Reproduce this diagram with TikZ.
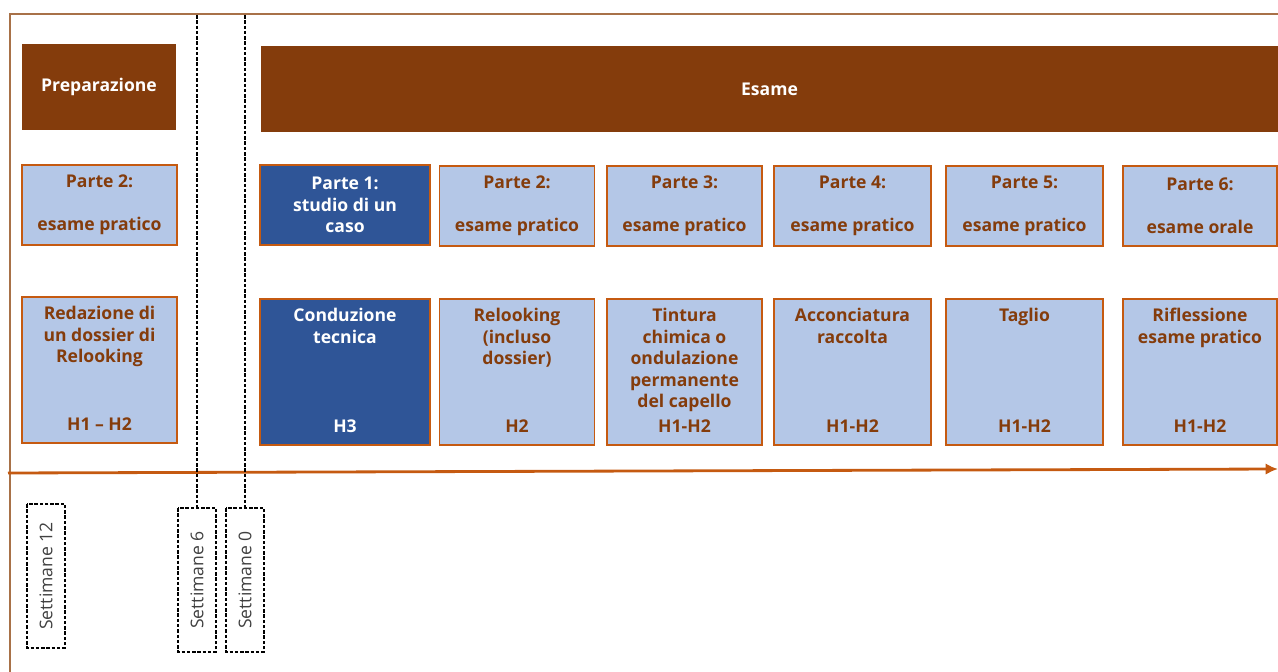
\documentclass[tikz,border=0pt]{standalone}
\usepackage{fontspec}
\setmainfont{Open Sans}
\usetikzlibrary{positioning,arrows.meta}
\definecolor{bruno}{HTML}{843C0C}
\definecolor{celeste}{HTML}{B4C7E7}
\definecolor{blu}{HTML}{2F5597}
\definecolor{arancio}{HTML}{C55A11}
\definecolor{cornice}{HTML}{A87148}
\begin{document}
\begin{tikzpicture}[>={Latex[length=7pt,width=6.5pt]},x=0.02cm,y=-0.02cm,
    fase/.style={fill=bruno,text=white,font=\bfseries\fontsize{10}{12.2}\selectfont,inner sep=0pt,minimum height=1.72cm},
    parte/.style={draw=arancio,line width=1.1pt,fill=celeste,text=bruno,font=\bfseries\fontsize{10}{12.2}\selectfont,align=center,inner sep=0pt,minimum width=3.1cm,minimum height=1.6cm},
    prova/.style={parte,minimum height=2.92cm},
    scuro/.style={fill=blu,text=white},
    testo/.style={font=\bfseries\fontsize{10}{12.2}\selectfont,align=center,inner sep=0pt,text=bruno},
    sett/.style={draw,dash pattern=on 2pt off 1pt,line width=0.6pt,rotate=90,minimum width=2.88cm,minimum height=0.76cm,font=\fontsize{10}{12}\selectfont,text=black!75}]
  \useasboundingbox (0,0) rectangle (1278,672);
  % cornice
  \draw[cornice,line width=1.7pt] (10,672) -- (10,14) -- (1278,14);
  % fasi
  \path (99,87) node[fase,minimum width=3.08cm] (prep) {Preparazione};
  \path (769.5,89) node[fase,minimum width=20.34cm] (esame) {Esame};
  % parti
  \path (99.5,205) node[parte] (p0) {Parte 2:\\[12.2pt]esame pratico};
  \path (345,205) node[parte,scuro,minimum width=3.4cm] (p1) {Parte 1:\\studio di un\\caso};
  \path (517,206) node[parte] (p2) {Parte 2:\\[12.2pt]esame pratico};
  \path (684.5,206) node[parte] (p3) {Parte 3:\\[12.2pt]esame pratico};
  \path (852.5,206) node[parte,minimum width=3.14cm] (p4) {Parte 4:\\[12.2pt]esame pratico};
  \path (1024.5,206) node[parte,minimum width=3.14cm] (p5) {Parte 5:\\[12.2pt]esame pratico};
  \path (1200,206) node[parte,minimum width=3.08cm] (p6) {Parte 6:\\[12.2pt]esame orale};
  % prove
  \path (99.5,370) node[prova] (r0) {};
  \path (345,372) node[prova,scuro,minimum width=3.4cm] (r1) {};
  \path (517,372) node[prova] (r2) {};
  \path (684.5,372) node[prova] (r3) {};
  \path (852.5,372) node[prova,minimum width=3.14cm] (r4) {};
  \path (1024.5,372) node[prova,minimum width=3.14cm] (r5) {};
  \path (1200,372) node[prova,minimum width=3.08cm] (r6) {};
  \node[testo,below=0.2cm of r0.north] (r0t) {Redazione di\\un dossier di\\Relooking};
  \node[testo,text=white,below=0.2cm of r1.north] (r1t) {Conduzione\\tecnica};
  \node[testo,below=0.2cm of r2.north] (r2t) {Relooking\\(incluso\\dossier)};
  \node[testo,below=0.2cm of r3.north] (r3t) {Tintura\\chimica o\\ondulazione\\permanente\\del capello};
  \node[testo,below=0.2cm of r4.north] (r4t) {Acconciatura\\raccolta};
  \node[testo,below=0.2cm of r5.north] (r5t) {Taglio};
  \node[testo,below=0.2cm of r6.north] (r6t) {Riflessione\\esame pratico};
  \node[testo,above=0.26cm of r0.south] (r0h) {H1 -- H2};
  \node[testo,text=white,above=0.26cm of r1.south] (r1h) {H3};
  \node[testo,above=0.26cm of r2.south] (r2h) {H2};
  \node[testo,above=0.26cm of r3.south] (r3h) {H1-H2};
  \node[testo,above=0.26cm of r4.south] (r4h) {H1-H2};
  \node[testo,above=0.26cm of r5.south] (r5h) {H1-H2};
  \node[testo,above=0.26cm of r6.south] (r6h) {H1-H2};
  % asse dei tempi
  \coordinate (a0) at (8,473);
  \coordinate (a1) at (1278,469);
  \draw[->,arancio,line width=1.6pt] (a0) -- (a1);
  % settimane
  \path (46,576) node[sett] (s12) {Settimane 12};
  \path (197,580) node[sett] (s6) {Settimane 6};
  \path (245,580) node[sett] (s0) {Settimane 0};
  \coordinate (t6) at (197,15);
  \coordinate (t0) at (245,15);
  \draw[dash pattern=on 2pt off 1pt,line width=0.6pt] (t6) -- (s6.east);
  \draw[dash pattern=on 2pt off 1pt,line width=0.6pt] (t0) -- (s0.east);
\end{tikzpicture}
\end{document}
